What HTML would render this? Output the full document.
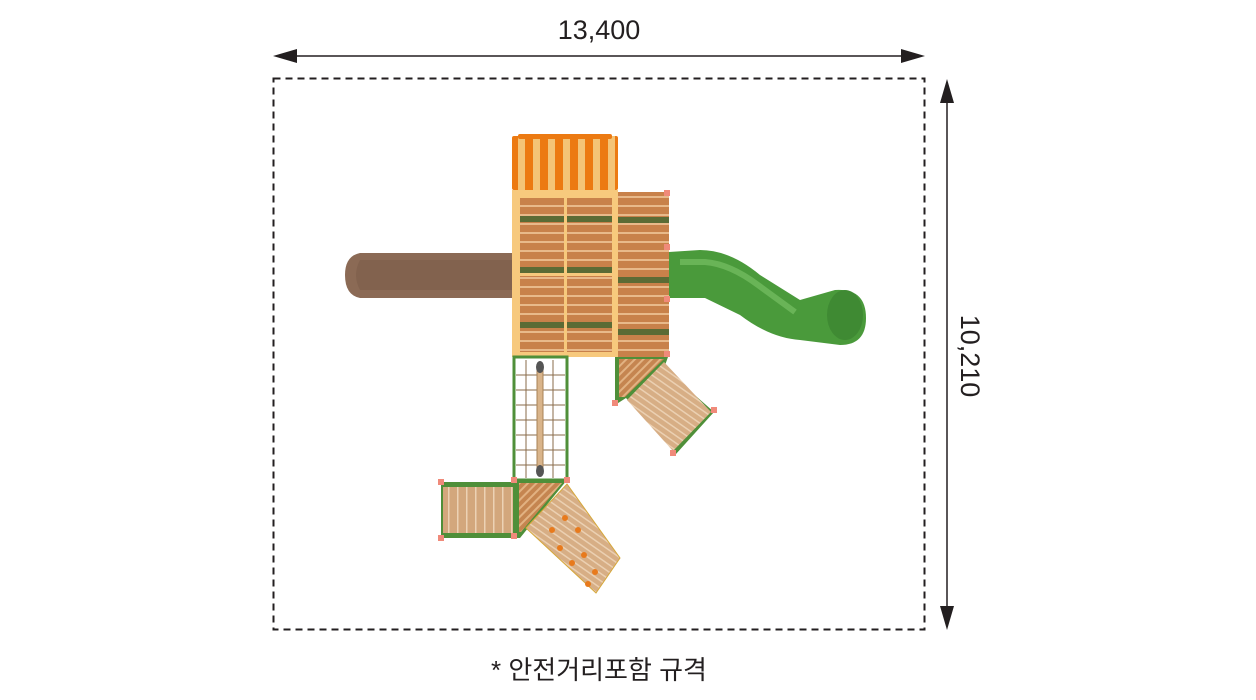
<!DOCTYPE html>
<html><head><meta charset="utf-8"><style>
html,body{margin:0;padding:0;background:#fff;width:1256px;height:700px;overflow:hidden}
svg{display:block}
text{font-family:"Liberation Sans","Noto Sans CJK KR",sans-serif;fill:#231f20}
</style></head><body>
<svg width="1256" height="700" viewBox="0 0 1256 700" xmlns="http://www.w3.org/2000/svg">
<defs>
<pattern id="boards" width="10" height="9" patternUnits="userSpaceOnUse">
<rect width="10" height="9" fill="#c8814a"/><rect y="7" width="10" height="2" fill="#e8b98a"/>
</pattern>
<pattern id="boardsV" width="9" height="10" patternUnits="userSpaceOnUse">
<rect width="9" height="10" fill="#d3a77c"/><rect x="7" width="1.5" height="10" fill="#ecd2b4"/>
</pattern>
<pattern id="stripe" width="15" height="10" patternUnits="userSpaceOnUse">
<rect width="15" height="10" fill="#f4c477"/><rect width="8" height="10" fill="#ec7a12"/>
</pattern>
<pattern id="diag" width="6" height="6" patternUnits="userSpaceOnUse" patternTransform="rotate(45)">
<rect width="6" height="6" fill="#c58550"/><rect width="2" height="6" fill="#e2b282"/>
</pattern>
<pattern id="wood" width="6" height="10" patternUnits="userSpaceOnUse" patternTransform="rotate(-55)">
<rect width="6" height="10" fill="#d7ae85"/><rect width="1.5" height="10" fill="#ebd0b2"/>
</pattern>
</defs>

<line x1="285" y1="56" x2="905" y2="56" stroke="#231f20" stroke-width="1.5"/>
<polygon points="273,56 297,49 297,63" fill="#231f20"/>
<polygon points="925,56 901,49 901,63" fill="#231f20"/>
<text x="599" y="39" font-size="27" text-anchor="middle">13,400</text>
<line x1="947" y1="95" x2="947" y2="612" stroke="#231f20" stroke-width="1.5"/>
<polygon points="947,79 940,103 954,103" fill="#231f20"/>
<polygon points="947,630 940,606 954,606" fill="#231f20"/>
<text x="0" y="0" font-size="27" text-anchor="middle" transform="translate(961,356) rotate(90)">10,210</text>
<rect x="273.5" y="78.5" width="651" height="551" fill="none" stroke="#231f20" stroke-width="2" stroke-dasharray="7,5"/>
<text x="599" y="679" font-size="26" text-anchor="middle">* 안전거리포함 규격</text>

<path d="M512,253 L360,253 Q345,256 345,275 Q345,295 360,298 L512,298 Z" fill="#8b6a55"/>
<path d="M360,260 L512,260 L512,290 L360,290 Q352,275 360,260Z" fill="#7d5d4a" opacity="0.6"/>

<path d="M669,252 L700,250 Q730,250 760,275 L800,300 L835,290 Q866,288 866,318 Q866,345 840,345 L800,340 Q770,338 740,315 L705,298 L669,298 Z" fill="#4a9a3b"/>
<path d="M680,262 L705,262 Q730,264 758,285 L795,312" stroke="#7ec66a" stroke-width="6" fill="none" opacity="0.6"/>
<ellipse cx="845" cy="315" rx="18" ry="25" fill="#3f8a33"/>

<rect x="512" y="136" width="106" height="54" fill="url(#stripe)" rx="2"/>
<rect x="518" y="134" width="94" height="5" fill="#ec7a12" rx="2"/>

<rect x="512" y="190" width="106" height="167" fill="#f7c97d"/>
<rect x="520" y="198" width="92" height="154" fill="url(#boards)"/>
<rect x="520" y="216" width="92" height="6" fill="#5b6b35"/>
<rect x="520" y="267" width="92" height="6" fill="#5b6b35"/>
<rect x="520" y="322" width="92" height="6" fill="#5b6b35"/>
<rect x="564" y="198" width="3" height="154" fill="#f7c97d"/>
<rect x="520" y="273" width="92" height="3" fill="#f7c97d"/>

<rect x="618" y="192" width="51" height="165" fill="url(#boards)"/>
<rect x="618" y="217" width="51" height="6" fill="#5b6b35"/>
<rect x="618" y="277" width="51" height="6" fill="#5b6b35"/>
<rect x="618" y="329" width="51" height="6" fill="#5b6b35"/>
<g fill="#f08a7a"><rect x="664" y="190" width="6" height="6"/><rect x="664" y="244" width="6" height="6"/><rect x="664" y="296" width="6" height="6"/><rect x="664" y="351" width="6" height="6"/></g>

<polygon points="615,357 668,357 664,368 714,412 676,454 626,398 615,405" fill="#4f8f39"/>
<polygon points="619,359 664,359 625,397 619,397" fill="url(#diag)"/>
<polygon points="664,362 711,412 673,451 627,400" fill="url(#wood)"/>
<g fill="#f08a7a"><rect x="612" y="400" width="6" height="6"/><rect x="711" y="407" width="6" height="6"/><rect x="670" y="450" width="6" height="6"/></g>

<rect x="514" y="357" width="53" height="123" fill="#fff" stroke="#4f8f39" stroke-width="3"/>
<g stroke="#8a6b4a" stroke-width="1">
<line x1="516" y1="375" x2="565" y2="375"/><line x1="516" y1="390" x2="565" y2="390"/><line x1="516" y1="405" x2="565" y2="405"/><line x1="516" y1="420" x2="565" y2="420"/><line x1="516" y1="435" x2="565" y2="435"/><line x1="516" y1="450" x2="565" y2="450"/><line x1="516" y1="465" x2="565" y2="465"/>
<line x1="526" y1="360" x2="526" y2="478"/><line x1="553" y1="360" x2="553" y2="478"/>
</g>
<rect x="537" y="366" width="6" height="106" fill="#d9b48a" stroke="#a88255" stroke-width="1"/>
<ellipse cx="540" cy="367" rx="4" ry="6" fill="#555"/><ellipse cx="540" cy="471" rx="4" ry="6" fill="#555"/>

<rect x="441" y="482" width="73" height="56" fill="#4f8f39"/>
<rect x="443" y="487" width="70" height="46" fill="url(#boardsV)"/>
<polygon points="514,480 567,480 520,538 514,538" fill="#4f8f39"/>
<polygon points="519,483 562,483 521,532 519,532" fill="url(#diag)"/>
<polygon points="567,484 620,558 596,593 526,528" fill="url(#wood)" stroke="#d6a83a" stroke-width="1"/>
<g fill="#e87a1c"><circle cx="565" cy="518" r="3"/><circle cx="578" cy="530" r="3"/><circle cx="552" cy="530" r="3"/><circle cx="560" cy="548" r="3"/><circle cx="584" cy="555" r="3"/><circle cx="572" cy="563" r="3"/><circle cx="595" cy="572" r="3"/><circle cx="588" cy="584" r="3"/></g>
<g fill="#f08a7a"><rect x="438" y="479" width="6" height="6"/><rect x="438" y="535" width="6" height="6"/><rect x="511" y="477" width="6" height="6"/><rect x="564" y="477" width="6" height="6"/><rect x="511" y="533" width="6" height="6"/></g>
</svg>
</body></html>
